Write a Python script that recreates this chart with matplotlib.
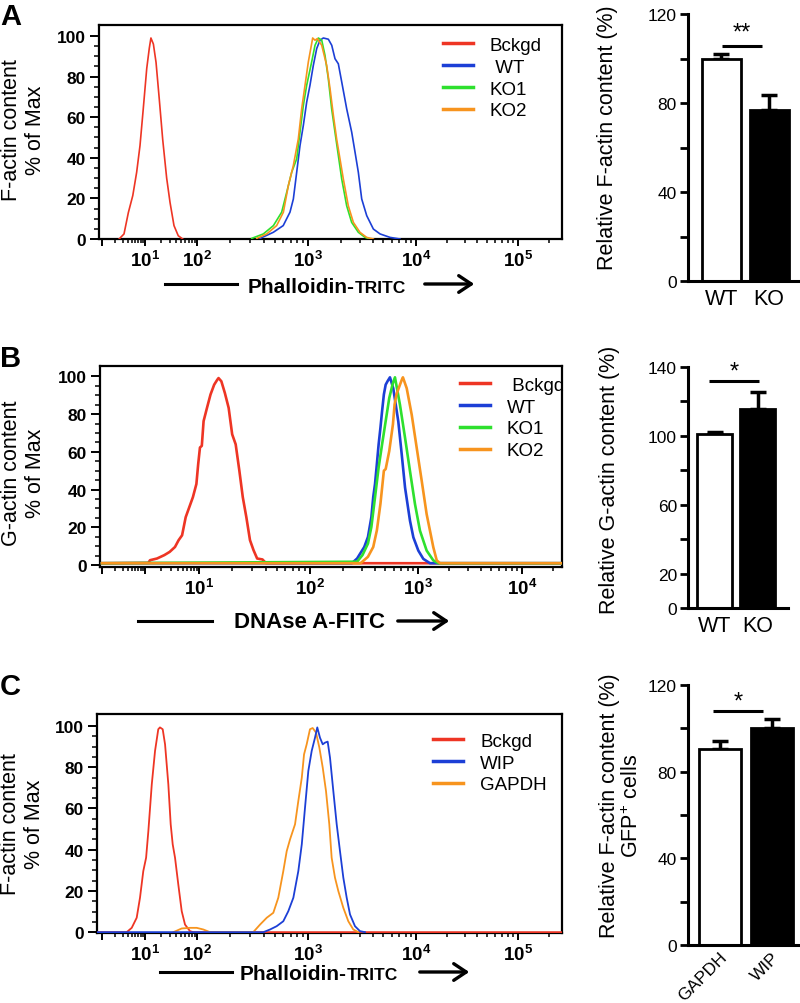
import numpy as np
import matplotlib
matplotlib.use('Agg')
import matplotlib.pyplot as plt
from matplotlib.patches import FancyArrowPatch
from matplotlib.lines import Line2D

plt.rcParams['font.family'] = ['Liberation Sans', 'DejaVu Sans']
plt.rcParams['mathtext.fontset'] = 'custom'
plt.rcParams['mathtext.rm'] = 'Liberation Sans'
plt.rcParams['mathtext.bf'] = 'Liberation Sans:bold'
plt.rcParams['mathtext.it'] = 'Liberation Sans:italic'

# ---------------- data: panel A histogram (Phalloidin-TRITC) ----------------
A_labels = ['Bckgd', ' WT', 'KO1', 'KO2']
A_bckgd_x = [2.5, 3.25, 4.1, 5.2, 6.4, 7.65, 9.1, 10.8, 12.1, 13.0, 14.5, 16.3, 18.8, 21.9, 26.1, 30.3, 36.1, 43.6, 53.1]
A_bckgd_y = [0, 2.5, 13, 21.4, 32.9, 46, 64, 84, 94, 99, 96, 87, 69, 49, 30, 18, 6.6, 1.6, 0]
A_wt_x = [370, 487, 598, 688, 738, 791, 847, 908, 973, 1043, 1120, 1204, 1291, 1387, 1543, 1659, 1778, 1909,
          2053, 2282, 2539, 2725, 2924, 3143, 3497, 4030, 4645, 5745, 7110]
A_wt_y = [0.3, 3.3, 6.6, 13.2, 19.7, 32.9, 46, 56, 67.4, 75.7, 85.5, 93.8, 97.9, 99, 98.4, 95.4, 88.8, 86.3,
          77.3, 64.1, 52.6, 42.8, 32.9, 19.7, 11.5, 4.9, 2.5, 0.8, 0]
A_ko1_x = [311, 396, 488, 579, 643, 713, 791, 847, 908, 973, 1081, 1161, 1247, 1340, 1436, 1542, 1656, 1778,
           1910, 2051, 2280, 2535, 2924, 3373, 3750]
A_ko1_y = [0.3, 2.5, 6.6, 13.2, 23, 32.9, 39.5, 52.6, 65.8, 75.7, 87.2, 95.4, 99, 97.9, 90.5, 79, 64.1, 52.6,
           41.1, 29.6, 16.4, 8.2, 3.3, 0.8, 0]
A_ko2_x = [345, 425, 522, 600, 665, 738, 818, 877, 940, 1007, 1105, 1161, 1219, 1340, 1489, 1600, 1718, 1841,
           1977, 2123, 2360, 2630, 3027, 3491, 4027]
A_ko2_y = [0.3, 2.5, 6.6, 13.2, 26.3, 36.2, 49.3, 64.1, 75.7, 87.2, 99, 97.9, 98.7, 95.4, 85.5, 74, 60.9, 49.3,
           39.5, 29.6, 16.4, 8.2, 3.3, 0.8, 0]

# ---------------- data: panel B histogram (DNAse A-FITC) ----------------
B_labels = [' Bckgd', 'WT', 'KO1', 'KO2']
B_bckgd_x = [0.1, 1.15, 1.24, 1.67, 2.28, 2.86, 3.59, 4.19, 4.86, 5.67, 6.61, 7.71, 8.95, 9.66, 10.2, 10.6, 11.0,
             11.8, 12.7, 13.7, 14.6, 15.0, 15.9, 17.1, 18.5, 19.9, 21.4, 23.1, 24.8, 26.7, 28.8, 31.0, 33.4,
             37.3, 40.2, 30000]
B_bckgd_y = [1, 1.2, 2.6, 3.5, 5.3, 7, 9.6, 13.2, 15.8, 25.4, 30.7, 36, 43, 53.5, 62.3, 63.2, 76.3,
             83.3, 90.4, 95.6, 98.2, 99.1, 97.4, 91.2, 83.3, 69.3, 64, 50, 36, 25.4, 13.2, 7.9, 3.5,
             3, 1, 1]
B_wt_x = [0.1, 244, 273, 318, 344, 370, 385, 400, 416, 432, 449, 465, 483, 502, 522, 550,
          590, 657, 707, 759, 843, 906, 1007, 1125, 1304, 30000]
B_wt_y = [1, 1, 3.5, 9.6, 14.9, 25.4, 36, 43, 53.5, 64, 72.8, 81.6, 90.4, 95.6, 97.4, 99.5,
          93.7, 76.1, 58.6, 41, 23.5, 14.7, 7.7, 3.3, 1, 1]
B_ko1_x = [0.1, 273, 306, 344, 370, 400, 432, 465, 502, 542, 586, 612,
           681, 759, 843, 938, 1045, 1211, 1403, 1568, 30000]
B_ko1_y = [1, 1.8, 5.3, 11.4, 20.2, 36, 51.8, 64, 76.3, 88.6, 96.5, 99.5,
           84.9, 67.4, 49.8, 32.3, 18.2, 7.7, 2.5, 1, 1]
B_ko2_x = [0.1, 294, 344, 385, 416, 449, 483, 502, 542, 586, 607, 631, 681, 708, 725,
           786, 875, 973, 1086, 1211, 1304, 1403, 1514, 1629, 30000]
B_ko2_y = [1, 1, 4.4, 9.6, 18.4, 32.5, 50, 50.9, 60.5, 74.6, 85.1, 90.4, 95.6, 98.2, 99.5,
           93.7, 79.6, 62.1, 44.6, 27, 18.2, 9.5, 2.5, 1, 1]

# ---------------- data: panel C histogram (Phalloidin-TRITC) ----------------
C_labels = ['Bckgd', 'WIP', 'GAPDH']
C_bckgd_x = [0.8, 3.75, 4.91, 6.41, 7.65, 9.12, 10.5, 11.6, 13.5, 15.6, 18.0, 19.4, 21.9, 24.3, 28.1, 31.2, 34.1,
             37.8, 43.7, 50.8, 58.8, 73.3, 84.9, 270000]
C_bckgd_y = [0, 0, 2.1, 7.0, 16.7, 29.6, 36.1, 49, 71.7, 87.9, 98.4, 99.3, 98.4, 91.1, 71.7, 52.3, 42.6,
             36.1, 23.1, 10.2, 3.7, 0.5, 0, 0]
C_wip_x = [0.8, 396, 455, 522, 599, 665, 738, 818, 879, 940, 1007, 1082, 1161, 1219, 1291, 1369, 1436, 1521,
           1599, 1716, 1844, 1978, 2124, 2282, 2449, 2723, 3029, 3370]
C_wip_y = [0, 0, 1.3, 2.9, 5.3, 10.2, 16.7, 29.6, 42.6, 60.4, 78.2, 87.9, 94.3, 99.3, 94.3, 91.1, 91.9, 92.4,
           84.6, 68.4, 52.3, 39.3, 26.4, 16.7, 8.6, 2.9, 0.5, 0]
C_gapdh_x = [35.1, 50.8, 73.3, 98.6, 114, 131, 321, 370, 425, 487, 540, 599, 643, 689, 764, 818, 879, 921, 973,
             1043, 1105, 1186, 1274, 1369, 1468, 1575, 1656, 1778, 1910, 2124, 2362, 2626, 2921]
C_gapdh_y = [0, 1.8, 2.1, 2.1, 1.3, 0, 0, 3.7, 7.0, 9.4, 16.7, 29.6, 39.3, 45, 52.3, 63.6, 74.9, 86.2, 91.1,
             98.4, 99, 96.8, 89.5, 79.8, 68.4, 52.3, 36.1, 26.4, 19.9, 11.8, 5.3, 1.3, 0]

# ---------------- data: bar charts ----------------
A_bar_cats = ['WT', 'KO']
A_bar_vals = [100, 77]
A_bar_err = [2, 6.7]
B_bar_cats = ['WT', 'KO']
B_bar_vals = [101.3, 115.4]
B_bar_err = [1.2, 10]
C_bar_cats = ['GAPDH', 'WIP']
C_bar_vals = [90.5, 100.2]
C_bar_err = [3.7, 4.1]

# ---------------- style ----------------
RED, BLUE, GREEN, ORANGE = '#EE3524', '#1C3FD6', '#2EE02E', '#F7941E'

W, H = 800, 1004
fig = plt.figure(figsize=(W / 100, H / 100), dpi=100)


def box(l, t, r, b):
    return [l / W, 1 - b / H, (r - l) / W, (b - t) / H]


def fx(px):
    return px / W


def fy(py):
    return 1 - py / H


def decade_scale(logs, pix):
    L = np.asarray(logs, float)
    P = np.asarray(pix, float)
    s0 = (P[1] - P[0]) / (L[1] - L[0])
    s1 = (P[-1] - P[-2]) / (L[-1] - L[-2])

    def fwd(x):
        lx = np.log10(np.clip(np.asarray(x, float), 1e-9, None))
        y = np.interp(lx, L, P)
        y = np.where(lx < L[0], P[0] + (lx - L[0]) * s0, y)
        y = np.where(lx > L[-1], P[-1] + (lx - L[-1]) * s1, y)
        return y

    def inv(p):
        p = np.asarray(p, float)
        lx = np.interp(p, P, L)
        lx = np.where(p < P[0], L[0] + (p - P[0]) / s0, lx)
        lx = np.where(p > P[-1], L[-1] + (p - P[-1]) / s1, lx)
        return 10 ** lx

    return fwd, inv


def hist_panel(rect_px, logs, pix, curves, colors, lw, ylim, labeled_exps):
    l, t, r, b = rect_px
    ax = fig.add_axes(box(l, t, r, b))
    fwd, inv = decade_scale(logs, pix)
    ax.set_xscale('function', functions=(fwd, inv))
    for (xs, ys), c in zip(curves, colors):
        ax.plot(xs, ys, color=c, lw=lw, zorder=3, solid_joinstyle='round')
    x0, x1 = float(inv(l)), float(inv(r))
    exps = list(range(int(logs[0]), int(logs[-1]) + 1))
    majors = [10.0 ** e for e in exps]
    mlabels = [(r'$\mathbf{10^{%d}}$' % e) if e in labeled_exps else '' for e in exps]
    ax.set_xticks(majors, labels=mlabels)
    minors = [k * 10.0 ** e for e in exps for k in range(2, 10) if x0 <= k * 10.0 ** e <= x1]
    ax.set_xticks(minors, minor=True)
    ax.set_yticks(range(0, 101, 20))
    ax.set_yticks(range(0, 101, 5), minor=True)
    ax.set_xlim(x0, x1)
    ax.set_ylim(*ylim)
    for lab in ax.get_yticklabels():
        lab.set_fontweight('bold')
    ax.tick_params(axis='x', which='major', length=5, width=1.4, labelsize=13.5, pad=3)
    ax.tick_params(axis='x', which='minor', length=3, width=1.1)
    ax.tick_params(axis='y', which='major', length=6.5, width=1.4, labelsize=12.5, pad=3)
    ax.tick_params(axis='y', which='minor', length=3.5, width=1.1)
    for s in ax.spines.values():
        s.set_linewidth(1.6)
    return ax


def add_legend(ax, colors, labels, anchor):
    handles = [Line2D([], [], color=c, lw=2.5) for c in colors]
    ax.legend(handles, labels, loc='upper left', bbox_to_anchor=anchor, frameon=False,
              fontsize=13.5, handlelength=1.6, handletextpad=0.9, labelspacing=0.25,
              borderpad=0, borderaxespad=0)


def bar_panel(rect_px, cats, vals, errs, ylim, major_ticks, minor_ticks, xlim, sig_x, sig_y,
              star, star_y, rotate=False):
    l, t, r, b = rect_px
    ax = fig.add_axes(box(l, t, r, b))
    x = np.arange(len(cats))
    ax.bar(x, vals, width=0.81, color=['white', 'black'], edgecolor='black', linewidth=2, zorder=2)
    ax.errorbar(x, vals, yerr=[[0] * len(errs), errs], fmt='none', ecolor='black', elinewidth=2.5,
                capsize=6, capthick=2.5, zorder=1)
    ax.plot(sig_x, [sig_y, sig_y], color='black', lw=2.2, solid_capstyle='butt')
    ax.text(np.mean(sig_x), star_y, star, ha='center', va='center', fontsize=17)
    ax.set_yticks(major_ticks)
    ax.set_yticks(minor_ticks, minor=True)
    ax.tick_params(axis='y', which='both', length=6, width=2, labelsize=12.5, pad=2)
    if rotate:
        ax.set_xticks(x, labels=cats, rotation=45, ha='right', va='top', rotation_mode='anchor')
        ax.tick_params(axis='x', length=0, labelsize=12.5, pad=3)
    else:
        ax.set_xticks(x, labels=cats)
        ax.tick_params(axis='x', length=0, labelsize=15.5, pad=5)
    ax.set_xlim(*xlim)
    ax.set_ylim(*ylim)
    for s in ['top', 'right']:
        ax.spines[s].set_visible(False)
    for s in ['left', 'bottom']:
        ax.spines[s].set_linewidth(2.2)
    return ax


# ---------------- panel A ----------------
axa = hist_panel((99, 26, 562, 240), [0, 1, 2, 3, 4, 5], [102, 145, 197, 308, 416, 518],
                 [(A_bckgd_x, A_bckgd_y), (A_wt_x, A_wt_y), (A_ko1_x, A_ko1_y), (A_ko2_x, A_ko2_y)],
                 [RED, BLUE, GREEN, ORANGE], 1.2, (0, 105.4), [1, 2, 3, 4, 5])
add_legend(axa, [RED, BLUE, GREEN, ORANGE], A_labels, (0.743, 0.945))
bar_panel((688, 15, 798, 282), A_bar_cats, A_bar_vals, A_bar_err, (0, 120), [0, 40, 80, 120],
          [20, 60, 100], (-0.69, 1.6), [0.02, 0.85], 105.6, '**', 111.5)

# ---------------- panel B ----------------
axb = hist_panel((100, 367, 562, 568), [-1, 0, 1, 2, 3, 4], [102, 145, 199, 310, 418, 522],
                 [(B_bckgd_x, B_bckgd_y), (B_wt_x, B_wt_y), (B_ko1_x, B_ko1_y), (B_ko2_x, B_ko2_y)],
                 [RED, BLUE, GREEN, ORANGE], 1.9, (-1.0, 105.5), [1, 2, 3, 4])
add_legend(axb, [RED, BLUE, GREEN, ORANGE], B_labels, (0.779, 0.947))
bar_panel((688, 368, 788, 609), B_bar_cats, B_bar_vals, B_bar_err, (0, 140), [0, 20, 60, 100, 140],
          [40, 80, 120], (-0.62, 1.71), [-0.12, 1.03], 131.8, '*', 137.5)

# ---------------- panel C ----------------
axc = hist_panel((97, 715, 562, 934), [0, 1, 2, 3, 4, 5], [102, 145, 197, 308, 416, 518],
                 [(C_bckgd_x, C_bckgd_y), (C_gapdh_x, C_gapdh_y), (C_wip_x, C_wip_y)],
                 [RED, ORANGE, BLUE], 1.3, (-0.4, 105.8), [1, 2, 3, 4, 5])
add_legend(axc, [RED, BLUE, ORANGE], C_labels, (0.723, 0.915))
bar_panel((688, 686, 798, 946), C_bar_cats, C_bar_vals, C_bar_err, (0, 120), [0, 40, 80, 120],
          [20, 60, 100], (-0.61, 1.51), [-0.125, 0.84], 108, '*', 112.5, rotate=True)

# ---------------- text: panel letters ----------------
for letter, py in [('A', 25), ('B', 367), ('C', 695)]:
    fig.text(fx(0), fy(py), letter, fontsize=21, fontweight='bold', va='baseline', ha='left')

# ---------------- histogram y labels ----------------
for txt, px, py in [('F-actin content\n% of Max', 23.5, 130),
                    ('G-actin content\n% of Max', 23.5, 473),
                    ('F-actin content\n% of Max', 22.5, 824)]:
    fig.text(fx(px), fy(py), txt, rotation=90, ha='center', va='center', fontsize=15.5,
             multialignment='center', linespacing=1.15)

# ---------------- bar y labels ----------------
fig.text(fx(607), fy(138), 'Relative F-actin content (%)', rotation=90, ha='center', va='center', fontsize=15.5)
fig.text(fx(610), fy(480), 'Relative G-actin content (%)', rotation=90, ha='center', va='center', fontsize=15.5)
fig.text(fx(621), fy(806), 'Relative F-actin content (%)\nGFP$^{+}$ cells', rotation=90, ha='center',
         va='center', fontsize=15.5, multialignment='center', linespacing=1.1)


# ---------------- x labels with arrows ----------------
def xlabel_arrow(line_px, arrow_px, y_line, texts):
    fig.add_artist(Line2D([fx(line_px[0]), fx(line_px[1])], [fy(y_line), fy(y_line)],
                          transform=fig.transFigure, color='black', lw=2.2))
    fig.add_artist(FancyArrowPatch((fx(arrow_px[0]), fy(y_line)), (fx(arrow_px[1]), fy(y_line)),
                                   transform=fig.transFigure,
                                   arrowstyle='->,head_length=0.6,head_width=0.4',
                                   mutation_scale=15, lw=2.4, color='black'))
    for s, px, py, ha, fs in texts:
        fig.text(fx(px), fy(py), s, ha=ha, va='baseline', fontsize=fs, fontweight='bold')


xlabel_arrow((165, 237), (422, 477), 285,
             [('Phalloidin-', 355, 293, 'right', 15), ('TRITC', 355, 293, 'left', 12.5)])
xlabel_arrow((138, 212), (395, 452), 622,
             [('DNAse A-FITC', 310, 628, 'center', 16)])
xlabel_arrow((160, 232), (417, 472), 973,
             [('Phalloidin-', 347, 980, 'right', 15), ('TRITC', 347, 980, 'left', 12.5)])

fig.savefig('out.png', dpi=100)
